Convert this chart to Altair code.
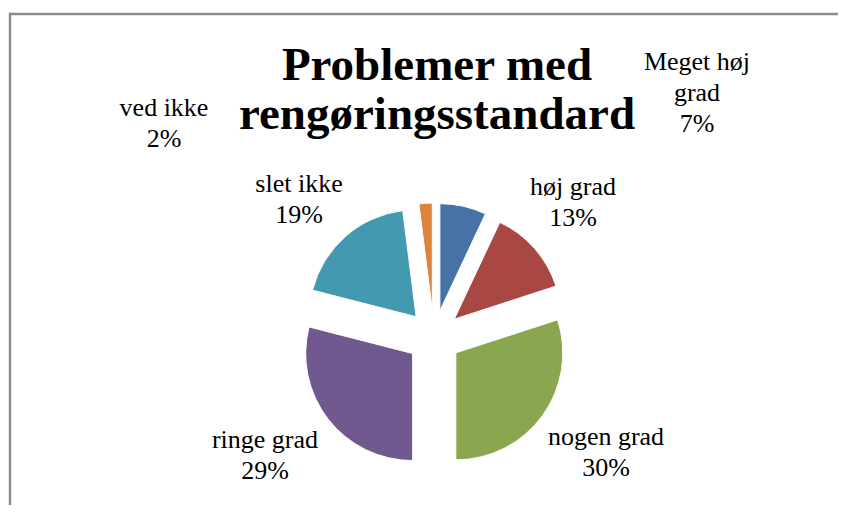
import altair as alt
import pandas as pd

# ---- data ----
categories = ["Meget høj grad", "høj grad", "nogen grad", "ringe grad", "slet ikke", "ved ikke"]
percent = [7, 13, 30, 29, 19, 2]
colors = ["#4672A8", "#A94744", "#8AA64F", "#71588F", "#4299B0", "#DB843D"]

# ---- label layout (text wrapping and first-line anchor positions, chart px) ----
label_lines = ["Meget høj\ngrad", "høj grad", "nogen grad", "ringe grad", "slet ikke", "ved ikke"]
label_x = [689, 565, 598, 257, 291, 156]
label_y = [54, 179, 429, 432, 176, 100]

W, H = 830, 497
CX, CY = 426, 329      # pie centre
RADIUS = 107
EXPLODE = 27
FONT = "Liberation Serif"
BORDER = "#8C8C8C"

df = pd.DataFrame({
    "order": list(range(len(categories))),
    "cat": categories,
    "pct": percent,
    "line": label_lines,
    "lx": label_x,
    "ly": label_y,
})

base = (
    alt.Chart(df)
    .transform_window(cum="sum(pct)", sort=[alt.SortField("order")], frame=[None, 0])
    .transform_joinaggregate(total="sum(pct)")
    .transform_calculate(t1="2*PI*datum.cum/datum.total")
    .transform_calculate(t0="2*PI*(datum.cum-datum.pct)/datum.total")
    .transform_calculate(mid="(datum.t0+datum.t1)/2")
    .transform_calculate(cx=f"{CX}+{EXPLODE}*sin(datum.mid)")
    .transform_calculate(cy=f"{CY}-{EXPLODE}*cos(datum.mid)")
    .transform_calculate(label="datum.line + '\\n' + datum.pct + '%'")
)

pie = base.mark_arc(radius=RADIUS, stroke="white", strokeWidth=1).encode(
    theta=alt.Theta("t0:Q", scale=None, stack=None),
    theta2="t1:Q",
    x=alt.X("cx:Q", scale=None),
    y=alt.Y("cy:Q", scale=None),
    color=alt.Color("cat:N", scale=alt.Scale(domain=categories, range=colors), legend=None),
    tooltip=["cat:N", "pct:Q"],
)

labels = base.mark_text(
    font=FONT, fontSize=26, lineBreak="\n", lineHeight=31,
    align="center", baseline="middle", color="black",
).encode(
    x=alt.X("lx:Q", scale=None),
    y=alt.Y("ly:Q", scale=None),
    text="label:N",
)

frame_src = pd.DataFrame({"k": [0]})
top_border = alt.Chart(frame_src).mark_rect(color=BORDER).encode(
    x=alt.value(1), x2=alt.value(W), y=alt.value(4.8), y2=alt.value(7.2)
)
left_border = alt.Chart(frame_src).mark_rect(color=BORDER).encode(
    x=alt.value(0.8), x2=alt.value(3.2), y=alt.value(4.8), y2=alt.value(H)
)

chart = (
    alt.layer(top_border, left_border, pie, labels)
    .properties(
        width=W,
        height=H,
        autosize=alt.AutoSizeParams(type="none"),
        padding=0,
        title=alt.TitleParams(
            text=["Problemer med", "rengøringsstandard"],
            font=FONT, fontSize=47, fontWeight="bold", color="black",
            anchor="middle", offset=-131, dx=14, lineHeight=49,
        ),
    )
    .configure(font=FONT)
    .configure_text(font=FONT)
    .configure_view(stroke=None)
)

chart.save("out.html", embed_options={"renderer": "svg", "actions": False})
